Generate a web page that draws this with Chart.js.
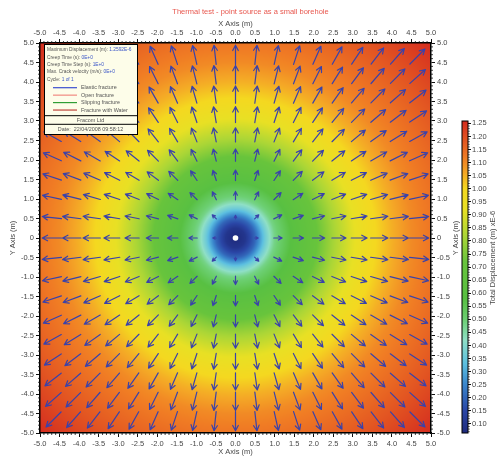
<!DOCTYPE html>
<html lang="en">
<head>
  <meta charset="UTF-8">
  <title>Thermal test - point source as a small borehole</title>
  <script src="https://cdn.jsdelivr.net/npm/chart.js"></script>
  <style>
    body { margin: 0; background: #fff; }
    #wrap { width: 501px; height: 456px; }
  </style>
</head>
<body>
  <div id="wrap"><canvas id="fieldChart" width="501" height="456"></canvas></div>

  <script>
    // Arrow sample grid (m)
    const gridX = [-4.5, -4, -3.5, -3, -2.5, -2, -1.5, -1, -0.5, 0, 0.5, 1, 1.5, 2, 2.5, 3, 3.5, 4, 4.5];
    const gridY = [-4.5, -4, -3.5, -3, -2.5, -2, -1.5, -1, -0.5, 0, 0.5, 1, 1.5, 2, 2.5, 3, 3.5, 4, 4.5];

    // Total displacement (xE-6 m) against distance from the source (m)
    const profileR = [0, 0.25, 0.5, 0.75, 1.0, 1.5, 2.0, 2.5, 3.0, 3.5, 4.0, 4.5, 5.0, 6.0, 7.08];
    const profileD = [0.065, 0.10, 0.20, 0.36, 0.48, 0.60, 0.70, 0.81, 0.91, 0.99, 1.05, 1.10, 1.13, 1.19, 1.2592];
    const dispMin = 0.065;
    const dispMax = 1.2592;

    // Point source position (m)
    const sourceX = 0;
    const sourceY = 0;

    // Axis and colour bar tick values
    const axisTicks = [-5, -4.5, -4, -3.5, -3, -2.5, -2, -1.5, -1, -0.5, 0, 0.5, 1, 1.5, 2, 2.5, 3, 3.5, 4, 4.5, 5];
    const cbarTicks = [0.10, 0.15, 0.20, 0.25, 0.30, 0.35, 0.40, 0.45, 0.50, 0.55, 0.60, 0.65, 0.70, 0.75,
                       0.80, 0.85, 0.90, 0.95, 1.00, 1.05, 1.10, 1.15, 1.20, 1.25];

    // Run information box
    const infoLines = [
      ['Maximum Displacement (m): ', dispMax.toFixed(4) + 'E-6'],
      ['Creep Time (s): ', '0E+0'],
      ['Creep Time Step (s): ', '1E+0'],
      ['Max. Crack velocity (m/s): ', '0E+0'],
      ['Cycle: ', '1 of 1']
    ];
    const fractureTypes = ['Elastic fracture', 'Open fracture', 'Slipping fracture', 'Fracture with Water'];
    const fractureColours = ['#3a4fd0', '#f08a80', '#2f9e35', '#c0443c'];
    const companyName = 'Fracom Ltd';
    const runDate = 'Date:  22/04/2008 09:58:12';

    // colour map: blue - cyan - green - yellow - orange - red
    const cmapStops = [
      [0.065, '#1e2a7c'], [0.15, '#2a46a6'], [0.25, '#3a86cc'], [0.33, '#5cbfe0'],
      [0.42, '#8fdfc6'], [0.50, '#6ccf72'], [0.58, '#58c042'], [0.72, '#68c43c'],
      [0.82, '#acd636'], [0.92, '#e8e024'], [1.00, '#f4d820'], [1.06, '#f4a826'],
      [1.12, '#f07c24'], [1.2592, '#d42c1f']
    ];

    const fontFamily = "'Liberation Sans', Arial, sans-serif";
    const tickFont = { family: fontFamily, size: 7.5 };
    const textColor = '#474747';
    const arrowColour = '#3a42aa';
    const arrowMaxLen = 22;   // px, arrow length at the maximum displacement

    function lookup(xs, ys, v) {
      if (v <= xs[0]) return ys[0];
      for (let i = 1; i < xs.length; i++) {
        if (v <= xs[i]) {
          const t = (v - xs[i - 1]) / (xs[i] - xs[i - 1]);
          return ys[i - 1] + t * (ys[i] - ys[i - 1]);
        }
      }
      return ys[ys.length - 1];
    }

    function profileAt(r) {
      return lookup(profileR, profileD, r);
    }

    function hexRgb(h) {
      return [parseInt(h.slice(1, 3), 16), parseInt(h.slice(3, 5), 16), parseInt(h.slice(5, 7), 16)];
    }
    const stopRgb = cmapStops.map(s => [s[0], hexRgb(s[1])]);

    function colourAt(d) {
      if (d <= stopRgb[0][0]) return stopRgb[0][1];
      for (let i = 1; i < stopRgb.length; i++) {
        if (d <= stopRgb[i][0]) {
          const a = stopRgb[i - 1], b = stopRgb[i];
          const t = (d - a[0]) / (b[0] - a[0]);
          return [0, 1, 2].map(k => Math.round(a[1][k] + t * (b[1][k] - a[1][k])));
        }
      }
      return stopRgb[stopRgb.length - 1][1];
    }

    // one arrow per grid node, none on the source itself
    const arrowPoints = [];
    gridY.forEach(gy => {
      gridX.forEach(gx => {
        if (gx !== sourceX || gy !== sourceY) arrowPoints.push({ x: gx, y: gy });
      });
    });

    function frameAxis(position, titleText, titlePad, size, zeroLabel) {
      const horizontal = position === 'top' || position === 'bottom';
      return {
        type: 'linear',
        position: position,
        min: -5,
        max: 5,
        afterBuildTicks: s => { s.ticks = axisTicks.map(v => ({ value: v })); },
        afterFit: s => { if (horizontal) s.height = size; else s.width = size; },
        ticks: {
          font: tickFont, color: textColor, padding: 2, maxRotation: 0, autoSkip: false,
          callback: v => (zeroLabel && v === 0) ? '0' : v.toFixed(1)
        },
        grid: { drawOnChartArea: false, tickLength: 4, tickColor: '#111', tickWidth: 1 },
        border: { display: true, color: '#000', width: 1.5, z: 1 },
        title: { display: !!titleText, text: titleText || '', font: tickFont, color: textColor, padding: titlePad }
      };
    }

    // arrow starts just behind the grid node and points along the displacement
    function drawArrow(ctx, nx, ny, ux, uy, len) {
      const tx = nx - ux * len * 0.1, ty = ny - uy * len * 0.1;
      const hx = nx + ux * len * 0.9, hy = ny + uy * len * 0.9;
      const barb = Math.min(6, 0.32 * len + 1.5);
      const ang = Math.atan2(uy, ux);
      ctx.beginPath();
      ctx.moveTo(tx, ty);
      ctx.lineTo(hx, hy);
      ctx.moveTo(hx - barb * Math.cos(ang - 0.48), hy - barb * Math.sin(ang - 0.48));
      ctx.lineTo(hx, hy);
      ctx.lineTo(hx - barb * Math.cos(ang + 0.48), hy - barb * Math.sin(ang + 0.48));
      ctx.stroke();
    }

    const fieldPlugin = {
      id: 'displacementField',
      afterLayout(chart) {
        // the colour bar only spans the displacement range, lower part of the frame
        const cb = chart.scales.cbar;
        cb.top = chart.chartArea.top + 78;
        cb.height = cb.bottom - cb.top;
        cb.configure();
      },
      beforeDraw(chart) {
        const { ctx, chartArea: a, scales: { x, y } } = chart;
        const w = Math.round(a.right - a.left), h = Math.round(a.bottom - a.top);
        const off = document.createElement('canvas');
        off.width = w; off.height = h;
        const octx = off.getContext('2d');
        const img = octx.createImageData(w, h);
        const xv = [];
        for (let i = 0; i < w; i++) xv.push(x.getValueForPixel(a.left + i + 0.5));
        for (let j = 0; j < h; j++) {
          const yv = y.getValueForPixel(a.top + j + 0.5);
          for (let i = 0; i < w; i++) {
            const c = colourAt(profileAt(Math.hypot(xv[i] - sourceX, yv - sourceY)));
            const k = (j * w + i) * 4;
            img.data[k] = c[0]; img.data[k + 1] = c[1]; img.data[k + 2] = c[2]; img.data[k + 3] = 255;
          }
        }
        octx.putImageData(img, 0, 0);
        ctx.drawImage(off, a.left, a.top);
      },
      afterDatasetsDraw(chart) {
        const { ctx, scales: { x, y } } = chart;
        const meta = chart.getDatasetMeta(0);
        const pts = chart.data.datasets[0].data;
        ctx.save();
        ctx.strokeStyle = arrowColour;
        ctx.lineWidth = 1.2;
        ctx.lineCap = 'round';
        ctx.lineJoin = 'round';
        meta.data.forEach((el, i) => {
          const p = pts[i];
          const dx = p.x - sourceX, dy = p.y - sourceY;
          const r = Math.hypot(dx, dy);
          const len = profileAt(r) / dispMax * arrowMaxLen;
          drawArrow(ctx, el.x, el.y, dx / r, -dy / r, len);
        });
        // the borehole itself
        ctx.fillStyle = '#ffffff';
        ctx.beginPath();
        ctx.arc(x.getPixelForValue(sourceX), y.getPixelForValue(sourceY), 2.8, 0, Math.PI * 2);
        ctx.fill();
        ctx.restore();
      },
      afterDraw(chart) {
        const { ctx, chartArea: a, scales } = chart;
        ctx.save();

        // minor ticks every 0.1 m round the frame
        ctx.strokeStyle = '#111';
        ctx.lineWidth = 0.8;
        ctx.beginPath();
        for (let k = -50; k <= 50; k++) {
          if (k % 5 === 0) continue;
          const px = scales.x.getPixelForValue(k / 10);
          const py = scales.y.getPixelForValue(k / 10);
          ctx.moveTo(px, a.bottom); ctx.lineTo(px, a.bottom + 2);
          ctx.moveTo(px, a.top); ctx.lineTo(px, a.top - 2);
          ctx.moveTo(a.left, py); ctx.lineTo(a.left - 2, py);
          ctx.moveTo(a.right, py); ctx.lineTo(a.right + 2, py);
        }
        ctx.stroke();

        // colour bar
        const cb = scales.cbar;
        const y0 = cb.getPixelForValue(dispMin), y1 = cb.getPixelForValue(dispMax);
        const bx = cb.left - 6;
        const grad = ctx.createLinearGradient(0, y0, 0, y1);
        cmapStops.forEach(s => grad.addColorStop((s[0] - dispMin) / (dispMax - dispMin), s[1]));
        ctx.fillStyle = grad;
        ctx.fillRect(bx, y1, 6, y0 - y1);
        ctx.strokeStyle = '#000';
        ctx.lineWidth = 1;
        ctx.strokeRect(bx, y1, 6, y0 - y1);
        ctx.lineWidth = 0.6;
        ctx.beginPath();
        for (let k = 7; k <= 125; k++) {
          const py = cb.getPixelForValue(k / 100);
          ctx.moveTo(cb.left, py); ctx.lineTo(cb.left + 1.8, py);
        }
        ctx.stroke();

        // right-hand titles, read bottom to top
        ctx.fillStyle = textColor;
        ctx.font = `7.5px ${fontFamily}`;
        ctx.textAlign = 'center';
        ctx.textBaseline = 'middle';
        const rot = (text, tx, ty) => {
          ctx.save(); ctx.translate(tx, ty); ctx.rotate(-Math.PI / 2); ctx.fillText(text, 0, 0); ctx.restore();
        };
        rot('Y Axis (m)', scales.y2.right - 12, (a.top + a.bottom) / 2);
        rot('Total Displacement (m) xE-6', cb.right - 8, (y0 + y1) / 2 - 19);

        // run information box
        const ix = a.left + 4, iy = a.top + 1, iw = 93, ih = 90;
        ctx.fillStyle = '#fdfde9';
        ctx.fillRect(ix, iy, iw, ih);
        ctx.strokeStyle = '#000';
        ctx.lineWidth = 1;
        ctx.strokeRect(ix + 0.5, iy + 0.5, iw, ih);
        ctx.textAlign = 'left';
        ctx.font = `4.8px ${fontFamily}`;
        infoLines.forEach(([label, val], i) => {
          const ty = iy + 6 + i * 7.3;
          ctx.fillStyle = '#555';
          ctx.fillText(label, ix + 3, ty);
          ctx.fillStyle = '#3a55c8';
          ctx.fillText(val, ix + 3 + ctx.measureText(label).width, ty);
        });
        ctx.font = `5.4px ${fontFamily}`;
        fractureTypes.forEach((t, i) => {
          const ty = iy + 43.7 + i * 7.45;
          ctx.strokeStyle = fractureColours[i];
          ctx.lineWidth = 1.2;
          ctx.beginPath(); ctx.moveTo(ix + 9, ty); ctx.lineTo(ix + 33, ty); ctx.stroke();
          ctx.fillStyle = '#555';
          ctx.fillText(t, ix + 37, ty);
        });
        ctx.strokeStyle = '#000';
        ctx.lineWidth = 1;
        ctx.beginPath();
        ctx.moveTo(ix, iy + 71.7); ctx.lineTo(ix + iw, iy + 71.7);
        ctx.moveTo(ix, iy + 80.3); ctx.lineTo(ix + iw, iy + 80.3);
        ctx.stroke();
        ctx.fillStyle = '#555';
        ctx.textAlign = 'center';
        ctx.fillText(companyName, ix + iw / 2, iy + 76.2);
        ctx.fillText(runDate, ix + iw / 2, iy + 85.2);
        ctx.restore();
      }
    };

    new Chart(document.getElementById('fieldChart'), {
      type: 'scatter',
      data: {
        datasets: [{
          label: 'Displacement',
          data: arrowPoints,
          pointRadius: 0,
          pointHoverRadius: 0
        }]
      },
      options: {
        responsive: false,
        animation: false,
        events: [],
        layout: { padding: 0 },
        plugins: {
          legend: { display: false },
          tooltip: { enabled: false },
          title: {
            display: true,
            text: 'Thermal test - point source as a small borehole',
            color: '#e8584f',
            font: { family: fontFamily, size: 7.5, weight: 'normal' },
            padding: { top: 7.5, bottom: 2.5 }
          }
        },
        scales: {
          x: frameAxis('bottom', 'X Axis (m)', { top: 0, bottom: 0 }, 23, false),
          x2: frameAxis('top', 'X Axis (m)', { top: 0.5, bottom: 0 }, 24, false),
          y: frameAxis('left', 'Y Axis (m)', { top: 8.5, bottom: 0 }, 40, true),
          y2: frameAxis('right', null, 0, 37, true),
          cbar: {
            type: 'linear',
            position: 'right',
            weight: 1,
            min: dispMin,
            max: dispMax,
            afterBuildTicks: s => { s.ticks = cbarTicks.map(v => ({ value: v })); },
            afterFit: s => { s.width = 33; },
            ticks: { font: tickFont, color: textColor, padding: 1, autoSkip: false, callback: v => v.toFixed(2) },
            grid: { drawOnChartArea: false, tickLength: 3, tickColor: '#111', tickWidth: 1 },
            border: { display: false }
          }
        }
      },
      plugins: [fieldPlugin]
    });
  </script>
</body>
</html>
